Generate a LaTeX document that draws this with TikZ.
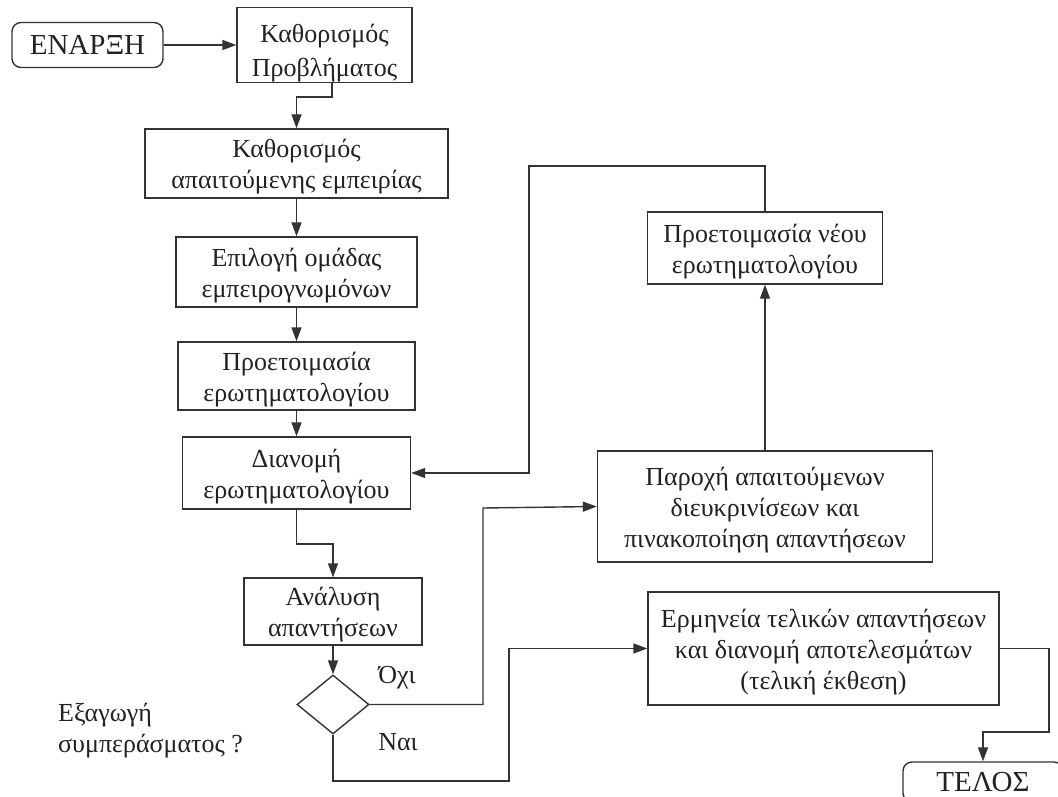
\documentclass[tikz,border=0pt]{standalone}
\usepackage{fontspec}
\setmainfont{Liberation Serif}
\usetikzlibrary{arrows.meta,shapes.geometric}
\definecolor{ink}{HTML}{333333}
\definecolor{txt}{HTML}{222222}
\newcommand{\lowered}[1]{\rule{0pt}{#1}}
\begin{document}
\begin{tikzpicture}[x=1pt,y=-1pt,
  every node/.style={text=txt,font=\fontsize{26}{31}\selectfont},
  box/.style={draw=ink,line width=1.4pt,rectangle,align=center,inner sep=0pt},
  term/.style={draw=ink,line width=1.4pt,rectangle,rounded corners=9pt,inner sep=0pt,
    font=\fontsize{29}{34}\selectfont},
  decision/.style={draw=ink,line width=1.4pt,diamond,inner sep=0pt,minimum width=72pt,minimum height=59pt},
  arr/.style={draw=ink,line width=1.4pt,-{Triangle[length=14pt,width=10pt]}},
  lbl/.style={inner sep=0pt}]
\useasboundingbox (0,0) rectangle (1058,797);
\clip (0,0) rectangle (1058,797);
\fill[white] (0,0) rectangle (1058,797);

% main column
\node[term,minimum width=151pt,minimum height=45pt] (start) at (87.5,45) {ΕΝΑΡΞΗ};
\node[box,minimum width=175pt,minimum height=69pt,font=\fontsize{26}{34}\selectfont] (b1) at (324.5,45) {\lowered{35pt}Καθορισμός\\Προβλήματος};
\node[box,minimum width=303pt,minimum height=69pt] (b2) at (296.5,163.5) {\lowered{25pt}Καθορισμός\\απαιτούμενης εμπειρίας};
\node[box,minimum width=241pt,minimum height=70pt] (b3) at (296.5,272) {\lowered{25pt}Επιλογή ομάδας\\εμπειρογνωμόνων};
\node[box,minimum width=237pt,minimum height=68pt] (b4) at (296.5,376) {\lowered{25pt}Προετοιμασία\\ερωτηματολογίου};
\node[box,minimum width=228pt,minimum height=72pt] (b5) at (296.5,473) {\lowered{25pt}Διανομή\\ερωτηματολογίου};
\node[box,minimum width=178pt,minimum height=67pt] (b6) at (333,611.5) {\lowered{25pt}Ανάλυση\\απαντήσεων};
\node[decision] (dia) at (333,704.5) {};

% right-hand branch
\node[box,minimum width=235pt,minimum height=72pt] (b8) at (765,248) {\lowered{25pt}Προετοιμασία νέου\\ερωτηματολογίου};
\node[box,minimum width=335pt,minimum height=111pt] (b7) at (765,506.5) {\lowered{25pt}Παροχή απαιτούμενων\\διευκρινίσεων και\\πινακοποίηση απαντήσεων};
\node[box,minimum width=351pt,minimum height=113pt] (b9) at (823.5,648.5) {\lowered{25pt}Ερμηνεία τελικών απαντήσεων\\και διανομή αποτελεσμάτων\\(τελική έκθεση)};
\node[term,minimum width=160pt,minimum height=40pt] (end) at (983,782) {ΤΕΛΟΣ};

% labels
\node[lbl] (no) at (397,678) {Όχι};
\node[lbl] (yes) at (398,742) {Ναι};
\node[lbl,anchor=west,align=left] (question) at (58,731) {Εξαγωγή\\συμπεράσματος ?};

% bend points
\coordinate (k1) at (332,97);
\coordinate (k2) at (296.5,544);
\coordinate (k3) at (483,508);
\coordinate (k4) at (509,781);
\coordinate (k5) at (529,166);
\coordinate (k6) at (1049,732);

% connectors
\draw[arr] (start) -- (b1);
\draw[arr] (b1.south -| k1) -- (k1) -- (k1 -| b2.north) -- (b2.north);
\draw[arr] (b2) -- (b3);
\draw[arr] (b3) -- (b4);
\draw[arr] (b4) -- (b5);
\draw[arr] (b5.south) -- (k2) -- (k2 -| b6.north) -- (b6.north);
\draw[arr] (b6) -- (dia);
\draw[arr] (dia.east) -- (dia.east -| k3) -- (k3) -- (b7.west);
\draw[arr] (dia.south) -- (dia.south |- k4) -- (k4) -- (k4 |- b9.west) -- (b9.west);
\draw[arr] (b7) -- (b8);
\draw[arr] (b8.north) -- (b8.north |- k5) -- (k5) -- (k5 |- b5.east) -- (b5.east);
\draw[arr] (b9.east) -- (b9.east -| k6) -- (k6) -- (k6 -| end.north) -- (end.north);
\end{tikzpicture}
\end{document}
